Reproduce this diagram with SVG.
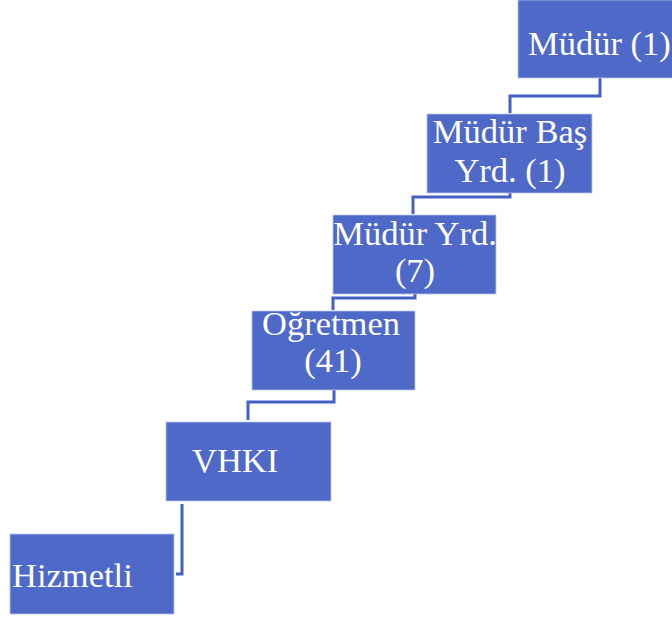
<svg xmlns="http://www.w3.org/2000/svg" width="672" height="618" viewBox="0 0 672 618">
  <style>
    .box { fill: #4F69C9; stroke: #B9C5EE; stroke-width: 0.8; }
    .lbl { font-family: "Liberation Serif", "Times New Roman", serif; font-size: 34.5px; fill: #FFFFFF; }
    .mid { text-anchor: middle; }
    .link { fill: none; stroke: #4460C2; stroke-width: 3; }
  </style>
  <rect width="672" height="618" fill="#FFFFFF"/>

  <g id="connectors">
    <path class="link" d="M600,78 V96 H510 V113"/>
    <path class="link" d="M510,193 V197 H413 V214"/>
    <path class="link" d="M415,294 V298 H333 V310"/>
    <path class="link" d="M334,390 V402 H248 V420"/>
    <path class="link" d="M182,504 V574 H176"/>
  </g>

  <g id="mudur">
    <rect class="box" x="518" y="0" width="160" height="78"/>
    <text class="lbl" x="528" y="55">Müdür (1)</text>
  </g>

  <g id="mudur-bas-yrd">
    <rect class="box" x="427" y="114" width="165" height="79"/>
    <text class="lbl mid" x="510" y="143">Müdür Baş</text>
    <text class="lbl mid" x="510" y="182">Yrd. (1)</text>
  </g>

  <g id="mudur-yrd">
    <rect class="box" x="333" y="215" width="163" height="79"/>
    <text class="lbl mid" x="415" y="245">Müdür Yrd.</text>
    <text class="lbl mid" x="415" y="282">(7)</text>
  </g>

  <g id="ogretmen">
    <rect class="box" x="252" y="311" width="163" height="79"/>
    <text class="lbl mid" x="331" y="335">Öğretmen</text>
    <text class="lbl mid" x="333" y="372">(41)</text>
  </g>

  <g id="vhki">
    <rect class="box" x="166" y="422" width="165" height="79"/>
    <text class="lbl" x="192" y="472">VHKI</text>
  </g>

  <g id="hizmetli">
    <rect class="box" x="10" y="534" width="164" height="80"/>
    <text class="lbl" x="12" y="587">Hizmetli</text>
  </g>
</svg>
